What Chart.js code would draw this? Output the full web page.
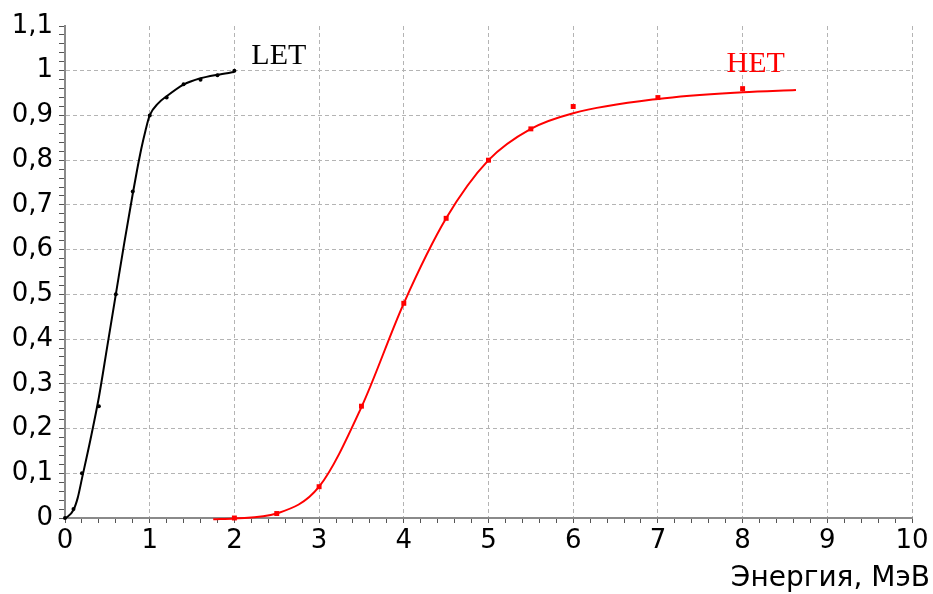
<!DOCTYPE html>
<html>
<head>
<meta charset="utf-8">
<script src="https://cdn.jsdelivr.net/npm/chart.js@4.4.0/dist/chart.umd.min.js"></script>
<style>
  body { margin: 0; background: #fff; }
  #myChart { display: block; }
</style>
</head>
<body>
<canvas id="myChart" width="933" height="594"></canvas>
<script>
// LET measured points
var letX = [0, 0.1, 0.2, 0.4, 0.6, 0.8, 1.0, 1.2, 1.4, 1.6, 1.8, 2.0];
var letY = [0, 0.02, 0.10, 0.25, 0.50, 0.73, 0.90, 0.94, 0.97, 0.98, 0.99, 1.0];
// LET fitted curve
var letFitX = [0, 0.1, 0.15, 0.2, 0.3, 0.4, 0.5, 0.6, 0.7, 0.8, 0.85, 0.9, 0.95, 1.0, 1.1, 1.2, 1.4, 1.6, 1.8, 2.0];
var letFitY = [-0.002, 0.018, 0.045, 0.088, 0.175, 0.27, 0.385, 0.50, 0.615, 0.725, 0.777, 0.825, 0.866, 0.90, 0.927, 0.943, 0.969, 0.983, 0.991, 0.997];

// HET measured points
var hetX = [2, 2.5, 3, 3.5, 4, 4.5, 5, 5.5, 6, 7, 8];
var hetY = [0.0, 0.01, 0.07, 0.25, 0.48, 0.67, 0.80, 0.87, 0.92, 0.94, 0.96];
// HET fitted curve
var hetFitX = [1.75, 2, 2.5, 3, 3.5, 4, 4.5, 5, 5.5, 6, 7, 8, 8.63];
var hetFitY = [-0.003, -0.001, 0.01, 0.07, 0.248, 0.48, 0.67, 0.80, 0.87, 0.905, 0.937, 0.952, 0.957];

// axis ticks
var xMajor = 1, xMinor = 0.2;
var yMajor = 0.1, yMinor = 0.02;
var xTitle = "Энергия, МэВ";

function toXY(xs, ys) {
  var out = [];
  for (var i = 0; i < xs.length; i++) out.push({ x: xs[i], y: ys[i] });
  return out;
}

function isMajor(value, step) {
  var r = value / step;
  return Math.abs(r - Math.round(r)) < 1e-6;
}

var gridGray = "#b4b4b4";

// text labels: curve names and axis title
var labelsPlugin = {
  id: "labels",
  afterDraw: function (chart) {
    var c = chart.ctx;
    var sx = chart.scales.x, sy = chart.scales.y;
    c.save();
    c.textBaseline = "alphabetic";
    c.textAlign = "left";
    c.font = "30px 'Liberation Serif'";
    c.fillStyle = "#000";
    c.fillText("LET", sx.getPixelForValue(2.2), sy.getPixelForValue(1.016));
    c.fillStyle = "#ff0000";
    c.fillText("HET", sx.getPixelForValue(7.81), sy.getPixelForValue(0.998));
    c.font = "28px 'DejaVu Sans'";
    c.fillStyle = "#000";
    c.textAlign = "right";
    c.fillText(xTitle, 930, 586);
    c.restore();
  }
};

var ctx = document.getElementById("myChart").getContext("2d");
var chart = new Chart(ctx, {
  type: "scatter",
  data: {
    datasets: [
      {
        label: "LET fit",
        data: toXY(letFitX, letFitY),
        showLine: true,
        borderColor: "#000",
        borderWidth: 2,
        pointRadius: 0,
        cubicInterpolationMode: "monotone",
        clip: false,
      },
      {
        label: "LET",
        data: toXY(letX, letY),
        backgroundColor: "#000",
        borderColor: "#000",
        pointRadius: 2,
        borderWidth: 0,
        clip: false,
      },
      {
        label: "HET fit",
        data: toXY(hetFitX, hetFitY),
        showLine: true,
        borderColor: "#ff0000",
        borderWidth: 2,
        pointRadius: 0,
        cubicInterpolationMode: "monotone",
        clip: false,
      },
      {
        label: "HET",
        data: toXY(hetX, hetY),
        backgroundColor: "#ff0000",
        borderColor: "#ff0000",
        pointStyle: "rect",
        pointRadius: 3.5,
        borderWidth: 0,
        clip: false,
      },
    ],
  },
  options: {
    responsive: false,
    animation: false,
    layout: { padding: { top: 26, right: 21, left: 0, bottom: 0 } },
    plugins: { legend: { display: false }, tooltip: { enabled: false } },
    scales: {
      x: {
        type: "linear",
        min: 0,
        max: 10,
        afterFit: function (s) { s.height = 76; },
        ticks: {
          stepSize: xMinor,
          autoSkip: false,
          maxRotation: 0,
          padding: 3,
          color: "#000",
          font: { family: "DejaVu Sans", size: 26 },
          callback: function (v) {
            return isMajor(v, xMajor) ? String(Math.round(v)) : "";
          },
        },
        grid: {
          color: function (c) {
            if (!c.tick) return "transparent";
            var v = c.tick.value;
            return isMajor(v, xMajor) && v > 0 ? gridGray : "transparent";
          },
          tickColor: "#555",
          tickLength: 5,
          tickBorderDash: [],
        },
        border: { color: "#8a8a8a", width: 2, dash: [4, 3] },
      },
      y: {
        type: "linear",
        min: 0,
        max: 1.1,
        afterFit: function (s) { s.width = 65; },
        ticks: {
          stepSize: yMinor,
          autoSkip: false,
          padding: 6,
          color: "#000",
          font: { family: "DejaVu Sans", size: 26 },
          callback: function (v) {
            if (!isMajor(v, yMajor)) return "";
            var n = Math.round(v * 10) / 10;
            return String(n).replace(".", ",");
          },
        },
        grid: {
          color: function (c) {
            if (!c.tick) return "transparent";
            var v = c.tick.value;
            return isMajor(v, yMajor) && v > 0.001 && v < 1.05 ? gridGray : "transparent";
          },
          tickColor: "#555",
          tickLength: 6,
          tickBorderDash: [],
        },
        border: { color: "#8a8a8a", width: 2, dash: [4, 3] },
      },
    },
  },
  plugins: [labelsPlugin],
});
</script>
</body>
</html>
